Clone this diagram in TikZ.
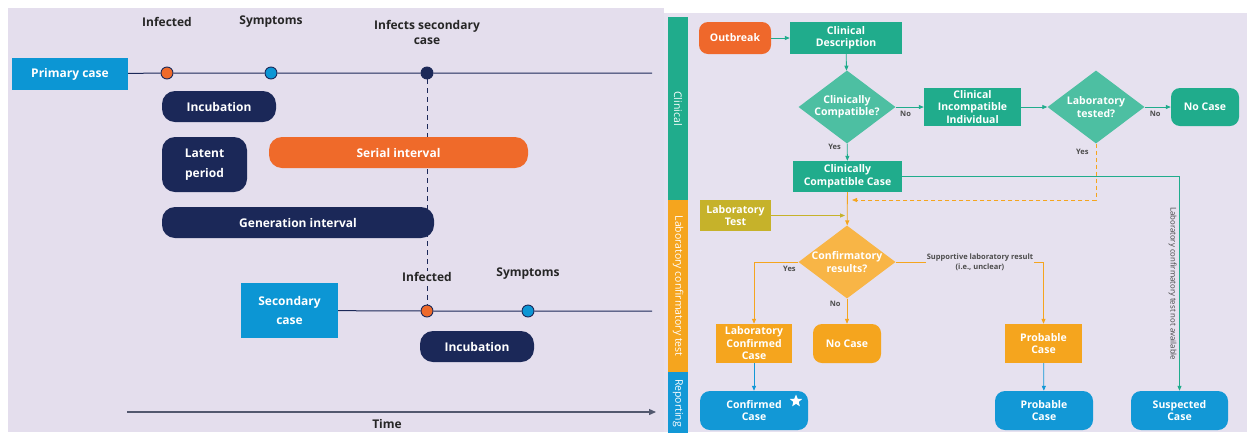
\documentclass[tikz,border=0pt]{standalone}
\usepackage{fontspec}
\setmainfont{Open Sans}
\usetikzlibrary{arrows.meta,positioning,shapes.geometric}

\definecolor{lavender}{RGB}{228,222,237}
\definecolor{lavendertwo}{RGB}{230,225,239}
\definecolor{casebl}{RGB}{12,150,212}
\definecolor{navy}{RGB}{27,40,88}
\definecolor{serial}{RGB}{239,106,42}
\definecolor{cteal}{RGB}{32,172,140}
\definecolor{dteal}{RGB}{77,191,162}
\definecolor{amber}{RGB}{245,165,30}
\definecolor{damber}{RGB}{248,181,70}
\definecolor{labolive}{RGB}{198,178,42}
\definecolor{repblue}{RGB}{18,152,214}
\definecolor{outor}{RGB}{239,104,43}

\tikzset{
  lbl/.style={text=black!85, font=\fontsize{12}{15}\selectfont\bfseries, align=center, inner sep=0pt},
  casebox/.style={fill=casebl, text=white, font=\fontsize{12}{19}\selectfont\bfseries, align=center, inner sep=0pt},
  bar/.style={fill=navy, text=white, rounded corners=13pt, font=\fontsize{12}{20}\selectfont\bfseries, align=center, inner sep=0pt},
  dot/.style={circle, draw=navy, line width=0.9pt, minimum size=12pt, inner sep=0pt},
  tline/.style={navy, line width=1pt},
  strip/.style={text=white, font=\fontsize{10.5}{11}\selectfont, rotate=-90, minimum height=20pt, inner sep=0pt},
  fbox/.style={text=white, font=\fontsize{10.5}{12.5}\selectfont\bfseries, align=center, inner sep=0pt},
  dia/.style={diamond, minimum width=97pt, minimum height=73pt, inner sep=0pt},
  dtxt/.style={text=white, font=\fontsize{10.5}{12.5}\selectfont\bfseries, align=center, inner sep=0pt},
  yn/.style={text=black!70, font=\fontsize{7.5}{8}\selectfont\bfseries, inner sep=1pt},
  sup/.style={fill=lavendertwo, text=black!70, font=\fontsize{7.5}{9.5}\selectfont\bfseries, align=center, inner sep=1pt},
  nalbl/.style={text=black!75, font=\fontsize{7.8}{9}\selectfont, rotate=-90, inner sep=2.5pt},
  flow/.style={line width=0.8pt, -{Triangle[length=5pt,width=4pt]}},
}

\begin{document}
\begin{tikzpicture}[x=1pt,y=-1pt]
  \useasboundingbox (0,0) rectangle (1247,432);
  \fill[white] (0,0) rectangle (1247,432);
  \fill[lavender] (8,8) rectangle (664,432);
  \fill[lavendertwo] (664,13) rectangle (1247,432);

  % primary case
  \node[casebox, minimum width=116, minimum height=32] (prim) at (70,74) {Primary case};
  \node[dot, fill=serial] (inf1) at (167,73) {};
  \node[dot, fill=casebl] (sym1) at (271,73) {};
  \node[dot, fill=navy] (sec1) at (427,73) {};
  \coordinate (end1) at (652,73);
  \draw[tline] (prim) -- (inf1) -- (sym1) -- (sec1) -- (end1);
  \node[lbl] (tinf1) at (167,22) {Infected};
  \node[lbl] (tsym1) at (271,22) {Symptoms};
  \node[lbl] (tsec1) at (427,32) {Infects secondary\\case};

  % secondary case
  \node[casebox, minimum width=97, minimum height=55] (secb) at (289.5,310.5) {Secondary\\case};
  \node[dot, fill=serial] (inf2) at (427,311) {};
  \node[dot, fill=casebl] (sym2) at (528,311) {};
  \coordinate (end2) at (652,311);
  \draw[tline] (secb) -- (inf2) -- (sym2) -- (end2);
  \draw[tline, line width=0.8pt, dash pattern=on 5pt off 4pt] (sec1) -- (inf2);
  \node[lbl, fill=lavender, inner sep=1pt] (tinf2) at (427,277) {Infected};
  \node[lbl] (tsym2) at (528,274) {Symptoms};

  % intervals
  \node[bar, minimum width=114, minimum height=31] (inc1) at (219,106.5) {Incubation};
  \node[bar, minimum width=85, minimum height=55] (lat) at (204.5,164.5) {Latent\\period};
  \node[bar, fill=serial, minimum width=259, minimum height=31] (ser) at (398.5,152.5) {Serial interval};
  \node[bar, minimum width=272, minimum height=31] (gen) at (298,222.5) {Generation interval};
  \node[bar, minimum width=114, minimum height=31] (inc2) at (477,346.5) {Incubation};

  % time axis
  \coordinate (t0) at (127,412);
  \coordinate (t1) at (656,412);
  \draw[line width=1.3pt, gray!55!navy, -{Triangle[length=7pt,width=6pt]}] (t0) -- (t1);
  \node[lbl] (time) at (387,424) {Time};

  % strips
  \node[strip, fill=cteal, minimum width=183] (sclin) at (678,108.5) {Clinical};
  \node[strip, fill=amber, minimum width=172] (slab) at (678,286) {Laboratory confirmatory test};
  \node[strip, fill=repblue, minimum width=62] (srep) at (678,403) {Reporting};

  % flowchart
  \node[fbox, fill=outor, rounded corners=9pt, minimum width=72, minimum height=32] (outb) at (735,38) {Outbreak};
  \node[fbox, fill=cteal, minimum width=112, minimum height=32] (cdes) at (846,38) {Clinical\\Description};
  \node[dia, fill=dteal, label={[dtxt]center:Clinically\\Compatible?}] (ccq) at (847,107) {};
  \node[fbox, fill=cteal, minimum width=97, minimum height=38] (cii) at (972.5,107) {Clinical\\Incompatible\\Individual};
  \node[dia, fill=dteal, label={[dtxt]center:Laboratory\\tested?}] (ltq) at (1096,107) {};
  \node[fbox, fill=cteal, rounded corners=9pt, minimum width=68, minimum height=38] (nc1) at (1205,107) {No Case};
  \node[fbox, fill=cteal, minimum width=109, minimum height=31] (ccc) at (847.5,176.5) {Clinically\\Compatible Case};
  \node[fbox, fill=labolive, minimum width=71, minimum height=31] (labt) at (735.5,215.5) {Laboratory\\Test};
  \node[dia, fill=damber, label={[dtxt]center:Confirmatory\\results?}] (crq) at (847,262) {};
  \node[fbox, fill=amber, minimum width=76, minimum height=39] (lcc) at (754,343.5) {Laboratory\\Confirmed\\Case};
  \node[fbox, fill=amber, rounded corners=9pt, minimum width=68, minimum height=39] (nc2) at (847,343.5) {No Case};
  \node[fbox, fill=amber, minimum width=77, minimum height=39] (prb1) at (1043.5,343.5) {Probable\\Case};
  \node[fbox, fill=repblue, rounded corners=10pt, minimum width=108, minimum height=39] (conf) at (754,410.5) {Confirmed\\Case};
  \node[star, star points=5, star point ratio=2.3, fill=white, minimum size=13pt, inner sep=0pt] (cstar) at (796,401) {};
  \node[fbox, fill=repblue, rounded corners=10pt, minimum width=98, minimum height=39] (prb2) at (1044,410.5) {Probable\\Case};
  \node[fbox, fill=repblue, rounded corners=10pt, minimum width=97, minimum height=39] (susp) at (1179.5,410.5) {Suspected\\Case};

  \coordinate (ltin) at (852,200);
  \coordinate (labin) at (845,215.5);

  \draw[flow, cteal] (outb) -- (cdes);
  \draw[flow, cteal] (cdes) -- (ccq);
  \draw[flow, cteal] (ccq) -- node[yn, pos=0.35, below=3pt] {No} (cii);
  \draw[flow, cteal] (cii) -- (ltq);
  \draw[flow, cteal] (ltq) -- node[yn, pos=0.4, below=3pt] {No} (nc1);
  \draw[flow, cteal] (ccq) -- node[yn, pos=0.2, left=5pt] {Yes} (ccc);
  \draw[flow, cteal] (ccc.east) -| node[nalbl, anchor=north, pos=0.75] {Laboratory confirmatory test not available} (susp.north);
  \draw[flow, amber, dash pattern=on 4pt off 3pt] (ltq.south) |- node[yn, pos=0.07, left=6pt] {Yes} (ltin);
  \draw[flow, labolive] (labt) -- (labin);
  \draw[flow, amber] (ccc) -- (crq);
  \draw[flow, amber] (crq.west) -| node[yn, pos=0.1, below=3pt] {Yes} (lcc.north);
  \draw[flow, amber] (crq) -- node[yn, pos=0.2, left=5pt] {No} (nc2);
  \draw[flow, amber] (crq.east) -| node[sup, pos=0.285] {Supportive laboratory result\\(i.e., unclear)} (prb1.north);
  \draw[flow, repblue] (lcc) -- (conf);
  \draw[flow, repblue] (prb1) -- (prb2);
\end{tikzpicture}
\end{document}
